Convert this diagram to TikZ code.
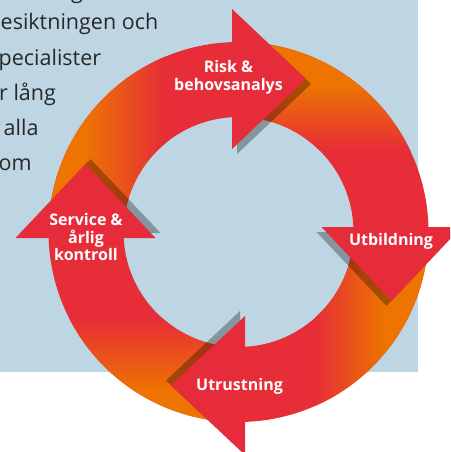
\documentclass[tikz,border=0pt]{standalone}
\usepackage{fontspec}
\setmainfont{Open Sans}
\usetikzlibrary{calc}
\definecolor{bgblue}{RGB}{190,214,227}
\definecolor{ringorange}{RGB}{237,116,0}
\definecolor{ringred}{RGB}{230,45,56}
\definecolor{arrred}{RGB}{230,44,58}
\definecolor{txtgray}{RGB}{40,40,40}
\newcommand\ringsector[2]{($(C)+(#1:190)$) arc[start angle=#1,end angle=#2,radius=190] -- ($(C)+(#2:115)$) arc[start angle=#2,end angle=#1,radius=115] -- cycle}
\tikzset{
  para/.style={anchor=base west, inner sep=0pt, text=txtgray, font=\fontsize{21.5}{35}\selectfont},
  lbl/.style={text=white, font=\bfseries\fontsize{16}{17.5}\selectfont, align=center, inner sep=0pt},
  headfill/.style={fill=arrred},
  headshadow/.style={fill=black, fill opacity=0.3}
}
\begin{document}
\begin{tikzpicture}[x=1pt,y=-1pt]
\useasboundingbox (0,0) rectangle (450,452);
\clip (0,0) rectangle (450,452);
\fill[bgblue] (0,0) rectangle (418,372);
% paragraph fragments
\node[para] (p0) at (71,-1.5) {g};
\node[para] (p1) at (0.5,30) {esiktningen och};
\node[para] (p2) at (-1.5,65) {pecialister};
\node[para] (p3) at (-1,100) {r lång};
\node[para] (p4) at (3.5,135) {alla};
\node[para] (p5) at (-1.5,170) {om};
\coordinate (C) at (238.5,232);
% segment A (upper left)
\begin{scope}
\clip \ringsector{178.5}{268.5};
\fill[ringred] (0,0) rectangle (450,452);
\fill[ringorange] (0,0) rectangle (85.5,452);
\shade[left color=ringorange,right color=ringred] (85,0) rectangle (165,452);
\end{scope}
% segment B (upper right)
\begin{scope}
\clip \ringsector{-91.5}{-1.5};
\fill[ringred] (0,0) rectangle (450,452);
\fill[ringorange] (0,0) rectangle (450,85.5);
\shade[top color=ringorange,bottom color=ringred] (0,85) rectangle (450,150);
\end{scope}
% segment C (lower right)
\begin{scope}
\clip \ringsector{-1.5}{88.5};
\fill[ringred] (0,0) rectangle (450,452);
\fill[ringorange] (384.5,0) rectangle (450,452);
\shade[left color=ringred,right color=ringorange] (315,0) rectangle (385,452);
\end{scope}
% segment D (lower left)
\begin{scope}
\clip \ringsector{88.5}{178.5};
\fill[ringred] (0,0) rectangle (450,452);
\fill[ringorange] (0,391.5) rectangle (450,452);
\shade[top color=ringred,bottom color=ringorange] (0,318) rectangle (450,392);
\end{scope}
% shadows
\fill[headshadow] (237,14) -- (311,84) -- (237,154) -- cycle;
\fill[headshadow] (316.5,232) -- (386.5,306) -- (456.5,232) -- cycle;
\fill[headshadow] (240,311) -- (166,380.5) -- (240,450) -- cycle;
\fill[headshadow] (20.5,233) -- (90.5,159) -- (160.5,233) -- cycle;
% arrowheads
\fill[headfill] (232,9) -- (306,79) -- (232,149) -- cycle;
\fill[headfill] (321.5,227) -- (391.5,301) -- (461.5,227) -- cycle;
\fill[headfill] (245,316) -- (171,385.5) -- (245,455) -- cycle;
\fill[headfill] (15.5,238) -- (85.5,164) -- (155.5,238) -- cycle;
% labels
\node[lbl] (risk) at (228.5,77.5) {Risk \&\\behovsanalys};
\node[lbl, anchor=base] (utb) at (391,245) {Utbildning};
\node[lbl, anchor=base] (utr) at (239.5,390) {Utrustning};
\node[lbl] (serv) at (86,237) {Service \&\\årlig\\kontroll};
\end{tikzpicture}
\end{document}
